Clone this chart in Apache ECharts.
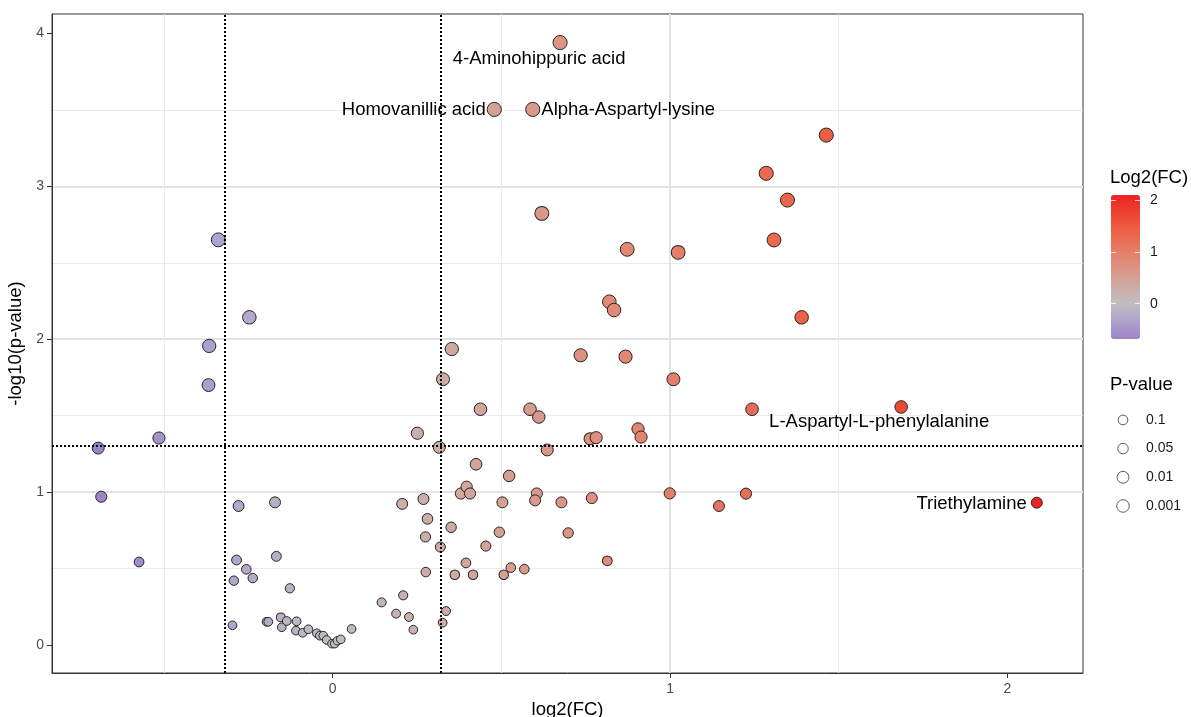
<!DOCTYPE html>
<html>
<head>
<meta charset="utf-8">
<script src="https://cdn.jsdelivr.net/npm/echarts@6/dist/echarts.min.js"></script>
<style>html,body{margin:0;padding:0;background:#fff}#chart{width:1191px;height:717px}</style>
</head>
<body>
<div id="chart"></div>
<script>
// ---------------- data ----------------
const log2FC = [
  -0.695, -0.686, -0.574, -0.515, -0.368, -0.366, -0.339, -0.247, -0.279, -0.171,
  -0.285, -0.167, -0.256, -0.293, -0.237, -0.127, -0.297, -0.196, -0.191, -0.154,
  -0.151, -0.136, -0.107, -0.109, -0.089, -0.072, -0.047, -0.038, -0.028, -0.018,
  -0.002, 0.006, 0.014, 0.024, 0.056, 0.145, 0.188, 0.209, 0.226, 0.239,
  0.206, 0.269, 0.281, 0.275, 0.276, 0.251, 0.316, 0.327, 0.319, 0.336,
  0.326, 0.353, 0.351, 0.362, 0.380, 0.397, 0.407, 0.395, 0.416, 0.425,
  0.438, 0.454, 0.494, 0.503, 0.507, 0.523, 0.528, 0.568, 0.585, 0.611,
  0.605, 0.600, 0.636, 0.678, 0.698, 0.735, 0.763, 0.781, 0.768, 0.814,
  0.868, 0.905, 0.914, 0.999, 1.010, 1.145, 1.225, 1.243, 0.620, 0.873,
  1.024, 0.820, 0.834, 1.390, 1.308, 1.348, 1.285, 1.463, 0.479, 0.593,
  0.674, 1.685, 2.087
];
const negLog10P = [
  1.288, 0.970, 0.543, 1.354, 1.700, 1.956, 2.650, 2.143, 0.909, 0.933,
  0.556, 0.580, 0.495, 0.421, 0.438, 0.371, 0.129, 0.152, 0.152, 0.181,
  0.116, 0.157, 0.155, 0.094, 0.080, 0.103, 0.077, 0.061, 0.061, 0.033,
  0.009, 0.009, 0.028, 0.037, 0.105, 0.279, 0.205, 0.325, 0.183, 0.100,
  0.923, 0.955, 0.825, 0.707, 0.477, 1.385, 1.293, 1.738, 0.641, 0.222,
  0.146, 1.936, 0.770, 0.459, 0.991, 1.035, 0.991, 0.537, 0.459, 1.182,
  1.542, 0.647, 0.738, 0.933, 0.459, 1.106, 0.506, 0.496, 1.542, 1.491,
  0.991, 0.946, 1.276, 0.933, 0.733, 1.895, 1.349, 1.356, 0.961, 0.551,
  1.886, 1.413, 1.360, 0.992, 1.738, 0.909, 0.990, 1.542, 2.823, 2.588,
  2.568, 2.245, 2.191, 2.143, 2.649, 2.910, 3.085, 3.335, 3.503, 3.503,
  3.940, 1.557, 0.931
];
const labelNames = ['Homovanillic acid', 'Alpha-Aspartyl-lysine', '4-Aminohippuric acid', 'L-Aspartyl-L-phenylalanine', 'Triethylamine'];
const labelIndex = [98, 99, 100, 101, 102];
const xTicks = [0, 1, 2];
const yTicks = [0, 1, 2, 3, 4];
const colorTicks = [0, 1, 2];
const pLegendValues = [0.1, 0.05, 0.01, 0.001];
const pLegendLabels = ['0.1', '0.05', '0.01', '0.001'];
const fcCutoff = Math.log2(1.25);
const pCutoff = 0.05;

// ---------------- styles / scales ----------------
const FONT = "'Liberation Sans', Arial, sans-serif";
const xRange = [-0.832, 2.224];
const yRange = [-0.183, 4.127];
const colorRange = [-0.68, 2.096];
const colorAnchors = [
  [-0.68, [157, 132, 198]],
  [-0.34, [175, 162, 204]],
  [0.0, [191, 191, 191]],
  [0.5, [214, 160, 148]],
  [1.0, [229, 127, 105]],
  [1.5, [237, 90, 64]],
  [2.096, [238, 34, 34]]
];
function colorAt(v) {
  for (let i = 1; i < colorAnchors.length; i++) {
    const [v1, c1] = colorAnchors[i];
    const [v0, c0] = colorAnchors[i - 1];
    if (v <= v1 || i === colorAnchors.length - 1) {
      const t = Math.max(0, Math.min(1, (v - v0) / (v1 - v0)));
      const c = c0.map((ch, k) => Math.round(ch + (c1[k] - ch) * t));
      return 'rgb(' + c.join(',') + ')';
    }
  }
}
const colorStops = [];
for (let i = 0; i <= 40; i++) colorStops.push(colorAt(colorRange[0] + (colorRange[1] - colorRange[0]) * i / 40));

function pointDiameter(v) {
  return 8.6 + 5.6 * (1 - Math.exp(-Math.pow(Math.max(v, 0) / 1.35, 1.6)));
}

const labelPlacement = {
  'Homovanillic acid': { position: 'left', distance: 1 },
  'Alpha-Aspartyl-lysine': { position: 'right', distance: 1 },
  '4-Aminohippuric acid': { position: 'inside', offset: [-21, 16] },
  'L-Aspartyl-L-phenylalanine': { position: 'inside', offset: [-22, 15] },
  'Triethylamine': { position: 'left', distance: 4, offset: [0, 1] }
};

const mainData = log2FC.map((x, i) => {
  const item = { value: [x, negLog10P[i]] };
  const li = labelIndex.indexOf(i);
  if (li >= 0) {
    const name = labelNames[li];
    item.name = name;
    item.label = Object.assign({
      show: true, formatter: name, fontSize: 18.5, color: '#000', fontFamily: FONT
    }, labelPlacement[name]);
  }
  return item;
});

const chart = echarts.init(document.getElementById('chart'), null, { renderer: 'canvas' });
chart.setOption({
  animation: false,
  backgroundColor: '#fff',
  textStyle: { fontFamily: FONT },
  title: [
    { text: 'Log2(FC)', left: 1110, top: 168, padding: 0,
      textStyle: { fontSize: 18.5, fontWeight: 'normal', color: '#000', fontFamily: FONT } },
    { text: 'P-value', left: 1110, top: 375, padding: 0,
      textStyle: { fontSize: 18.5, fontWeight: 'normal', color: '#000', fontFamily: FONT } }
  ],
  grid: [
    { left: 52, top: 14, right: 108, bottom: 44, show: true, borderColor: '#333', borderWidth: 1,
      backgroundColor: 'transparent', containLabel: false, outerBoundsMode: 'none' },
    { left: 1111, top: 195, width: 29, height: 144, show: false, outerBoundsMode: 'none' },
    { left: 1113, top: 405.6, width: 20, height: 114.7, show: false, outerBoundsMode: 'none' }
  ],
  xAxis: [
    {
      gridIndex: 0, type: 'value', min: xRange[0], max: xRange[1], minInterval: 1, maxInterval: 1,
      name: 'log2(FC)', nameLocation: 'middle', nameGap: 25,
      nameTextStyle: { fontSize: 18.5, color: '#000', fontFamily: FONT },
      axisLine: { show: true, onZero: false, lineStyle: { color: '#333', width: 1 } },
      axisTick: { show: true, length: 5, lineStyle: { color: '#333' }, customValues: xTicks },
      axisLabel: { show: true, customValues: xTicks, color: '#4D4D4D', fontSize: 14, margin: 9 },
      splitLine: { show: true, showMinLine: false, showMaxLine: false, lineStyle: { color: '#E3E3E3', width: 2 } },
      minorTick: { show: false, splitNumber: 2 },
      minorSplitLine: { show: true, lineStyle: { color: '#EBEBEB', width: 1 } }
    },
    { gridIndex: 1, type: 'value', min: 0, max: 1, show: false },
    { gridIndex: 2, type: 'value', min: 0, max: 1, show: false }
  ],
  yAxis: [
    {
      gridIndex: 0, type: 'value', min: yRange[0], max: yRange[1], minInterval: 1, maxInterval: 1,
      name: '-log10(p-value)', nameLocation: 'middle', nameGap: 23,
      nameTextStyle: { fontSize: 18.5, color: '#000', fontFamily: FONT },
      axisLine: { show: true, onZero: false, lineStyle: { color: '#333', width: 1 } },
      axisTick: { show: true, length: 5, lineStyle: { color: '#333' }, customValues: yTicks },
      axisLabel: { show: true, customValues: yTicks, color: '#4D4D4D', fontSize: 14, margin: 8 },
      splitLine: { show: true, showMinLine: false, showMaxLine: false, lineStyle: { color: '#E3E3E3', width: 2 } },
      minorTick: { show: false, splitNumber: 2 },
      minorSplitLine: { show: true, lineStyle: { color: '#EBEBEB', width: 1 } }
    },
    {
      gridIndex: 1, type: 'value', position: 'left', min: colorRange[0], max: colorRange[1], minInterval: 1, z: 10,
      axisLine: { show: false },
      axisTick: { show: true, inside: true, length: 5, customValues: colorTicks, lineStyle: { color: 'rgba(255,255,255,0.8)', width: 1 } },
      axisLabel: { show: false }, splitLine: { show: false }
    },
    {
      gridIndex: 1, type: 'value', position: 'right', min: colorRange[0], max: colorRange[1], minInterval: 1, z: 10,
      axisLine: { show: false },
      axisTick: { show: true, inside: true, length: 5, customValues: colorTicks, lineStyle: { color: 'rgba(255,255,255,0.8)', width: 1 } },
      axisLabel: { show: true, customValues: colorTicks, margin: 10, fontSize: 14, color: '#1A1A1A' },
      splitLine: { show: false }
    },
    {
      gridIndex: 2, type: 'category', data: pLegendLabels, inverse: true, position: 'right',
      axisLine: { show: false }, axisTick: { show: false }, splitLine: { show: false },
      axisLabel: { show: true, margin: 13, fontSize: 14, color: '#1A1A1A' }
    }
  ],
  visualMap: {
    type: 'continuous', seriesIndex: 0, dimension: 0,
    min: colorRange[0], max: colorRange[1], calculable: false,
    left: 1111, top: 195, itemWidth: 29, itemHeight: 144, padding: 0,
    inRange: { color: colorStops }, hoverLink: false
  },
  series: [
    {
      type: 'scatter', xAxisIndex: 0, yAxisIndex: 0, z: 3,
      data: mainData,
      symbol: 'circle',
      symbolSize: (val) => pointDiameter(val[1]),
      itemStyle: { borderColor: '#262626', borderWidth: 1, opacity: 1 },
      emphasis: { disabled: true }
    },
    {
      type: 'line', xAxisIndex: 0, yAxisIndex: 0, z: 5, data: [],
      markLine: {
        silent: true, symbol: 'none', animation: false,
        label: { show: false },
        lineStyle: { color: '#000', type: [2, 2], width: 2 },
        emphasis: { disabled: true },
        data: [{ xAxis: -fcCutoff }, { xAxis: fcCutoff }, { yAxis: -Math.log10(pCutoff) }]
      }
    },
    {
      type: 'scatter', xAxisIndex: 2, yAxisIndex: 3, z: 3,
      data: pLegendLabels.map(l => [0.5, l]),
      symbol: 'circle',
      symbolSize: (val, params) => pointDiameter(-Math.log10(pLegendValues[params.dataIndex])) - 1.5,
      itemStyle: { color: '#fff', borderColor: '#333', borderWidth: 1 },
      emphasis: { disabled: true }
    }
  ]
});
</script>
</body>
</html>
